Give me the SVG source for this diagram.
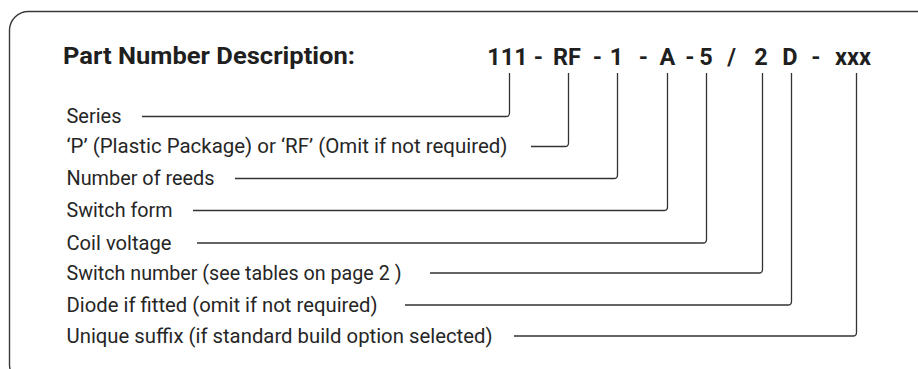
<svg xmlns="http://www.w3.org/2000/svg" width="918" height="369" viewBox="0 0 918 369">
<style>
.frame{fill:none;stroke:#3a3a3a;stroke-width:1.4}
.title{font-family:Roboto,"Liberation Sans",sans-serif;font-weight:bold;font-size:23px;fill:#1f1f1f}
.code{font-family:Roboto,"Liberation Sans",sans-serif;font-weight:bold;font-size:23.5px;fill:#1f1f1f;text-anchor:middle}
.lbl{font-family:Roboto,"Liberation Sans",sans-serif;font-size:21px;fill:#262626}
.conn path{fill:none;stroke:#333;stroke-width:1.3}
</style>
<rect class="frame" x="9.5" y="11.5" width="1000" height="372" rx="19" ry="19"/>
<g id="title"><text class="title" x="63" y="63.5" textLength="292" lengthAdjust="spacingAndGlyphs">Part Number Description:</text></g>
<g id="partnumber">
<text class="code" x="507.5" y="64.5">111</text>
<text class="code" x="538.5" y="64.5">-</text>
<text class="code" x="567" y="64.5">RF</text>
<text class="code" x="597.5" y="64.5">-</text>
<text class="code" x="616.5" y="64.5">1</text>
<text class="code" x="643.5" y="64.5">-</text>
<text class="code" x="667.5" y="64.5">A</text>
<text class="code" x="690" y="64.5">-</text>
<text class="code" x="706" y="64.5">5</text>
<text class="code" x="731.5" y="64.5">/</text>
<text class="code" x="761" y="64.5">2</text>
<text class="code" x="790" y="64.5">D</text>
<text class="code" x="816" y="64.5">-</text>
<text class="code" x="853" y="64.5">xxx</text>
</g>
<g id="series"><text class="lbl" x="66.5" y="123" textLength="55" lengthAdjust="spacingAndGlyphs">Series</text></g>
<g id="package"><text class="lbl" x="66.5" y="153" textLength="441" lengthAdjust="spacingAndGlyphs">‘P’ (Plastic Package) or ‘RF’ (Omit if not required)</text></g>
<g id="reeds"><text class="lbl" x="66.5" y="185" textLength="148" lengthAdjust="spacingAndGlyphs">Number of reeds</text></g>
<g id="switchform"><text class="lbl" x="66.5" y="217" textLength="106" lengthAdjust="spacingAndGlyphs">Switch form</text></g>
<g id="coil"><text class="lbl" x="66.5" y="250" textLength="105" lengthAdjust="spacingAndGlyphs">Coil voltage</text></g>
<g id="switchnumber"><text class="lbl" x="66.5" y="280" textLength="335" lengthAdjust="spacingAndGlyphs">Switch number (see tables on page 2 )</text></g>
<g id="diode"><text class="lbl" x="66.5" y="312" textLength="311" lengthAdjust="spacingAndGlyphs">Diode if fitted (omit if not required)</text></g>
<g id="suffix"><text class="lbl" x="66.5" y="343" textLength="426" lengthAdjust="spacingAndGlyphs">Unique suffix (if standard build option selected)</text></g>
<g id="connectors" class="conn">
<path d="M142 116.5 H506 Q509.5 116.5 509.5 113 V73"/>
<path d="M531 146.5 H565 Q568.5 146.5 568.5 143 V73"/>
<path d="M235 178.5 H614 Q617.5 178.5 617.5 175 V73"/>
<path d="M193 210.5 H664 Q667.5 210.5 667.5 207 V73"/>
<path d="M197 243 H703 Q706.5 243 706.5 239.5 V73"/>
<path d="M430 273 H759 Q762.5 273 762.5 269.5 V73"/>
<path d="M405 305 H788 Q791.5 305 791.5 301.5 V73"/>
<path d="M514 336 H853 Q856.5 336 856.5 332.5 V73"/>
</g>
</svg>
